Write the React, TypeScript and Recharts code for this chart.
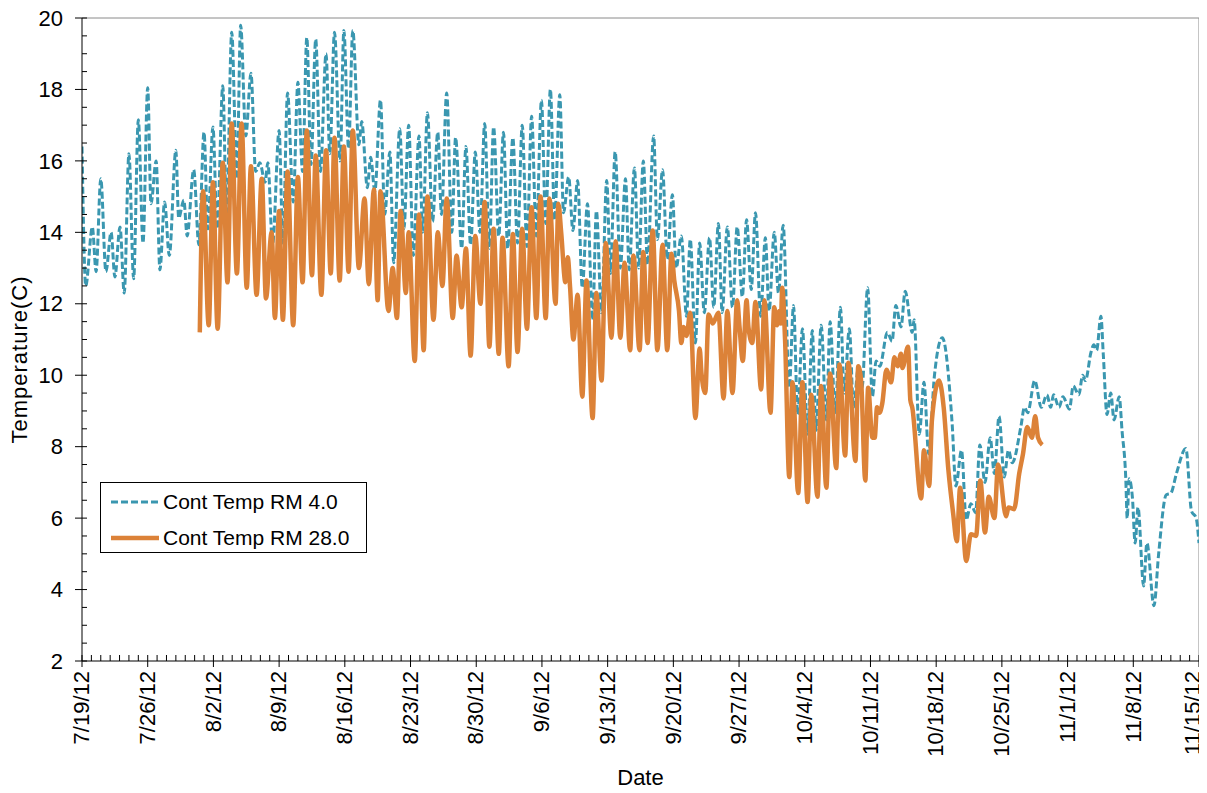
import React from "react";
import { LineChart, Line, XAxis, YAxis, ReferenceLine, Legend } from "recharts";

// Continuous water temperature, two river-mile stations.
// Each reading: [days since 7/19/12, temperature in °C]
const rm4Readings: [number, number][] = [
  [0, 16.4], [0.4, 12.5], [1.1, 14.15], [1.5, 12.9], [2.0, 15.5], [2.55, 12.9],
  [3.1, 14.0], [3.5, 12.75], [4.05, 14.15], [4.5, 12.3], [5.0, 16.2], [5.5, 12.7],
  [6.0, 17.15], [6.5, 13.7], [7.0, 18.05], [7.35, 14.8], [7.9, 16.0], [8.3, 12.95],
  [8.8, 14.85], [9.3, 13.35], [10.0, 16.3], [10.3, 14.4], [10.85, 14.9], [11.2, 13.9],
  [11.9, 15.75], [12.45, 13.65], [13.0, 16.8], [13.4, 14.1], [13.95, 16.95], [14.4, 14.1],
  [15.0, 18.1], [15.4, 14.5], [15.95, 19.6], [16.5, 15.5], [16.9, 19.8], [17.45, 16.7],
  [18.0, 18.45], [18.5, 15.7], [18.95, 15.95], [19.5, 15.4], [19.8, 15.95], [20.3, 13.65],
  [21.0, 16.85], [21.4, 13.7], [21.9, 17.9], [22.5, 14.85], [23.0, 18.2], [23.5, 15.7],
  [23.95, 19.45], [24.4, 15.9], [24.9, 19.4], [25.4, 15.7], [26.0, 19.0], [26.4, 16.2],
  [26.9, 19.6], [27.5, 16.0], [27.9, 19.65], [28.4, 16.35], [28.85, 19.65], [29.5, 16.45],
  [29.8, 17.1], [30.4, 15.25], [30.75, 16.1], [31.2, 15.15], [31.8, 17.7], [32.25, 14.5],
  [32.8, 16.25], [33.2, 13.15], [33.85, 16.9], [34.3, 14.1], [34.8, 17.0], [35.3, 13.35],
  [35.9, 16.7], [36.3, 14.0], [36.8, 17.35], [37.35, 14.3], [37.9, 16.8], [38.3, 14.5],
  [38.85, 17.9], [39.4, 14.0], [39.8, 16.65], [40.45, 13.55], [40.9, 16.4], [41.4, 13.65],
  [41.9, 16.25], [42.4, 14.0], [42.9, 17.05], [43.4, 13.55], [43.85, 16.95], [44.4, 13.9],
  [44.9, 16.8], [45.35, 13.55], [45.9, 16.65], [46.4, 13.7], [46.9, 17.0], [47.4, 13.6],
  [47.9, 17.25], [48.4, 13.9], [48.95, 17.7], [49.4, 14.25], [49.9, 18.0], [50.35, 14.35],
  [50.9, 17.85], [51.3, 14.55], [51.85, 15.55], [52.3, 14.05], [52.8, 15.45], [53.3, 12.45],
  [53.85, 14.8], [54.4, 11.55], [54.8, 14.6], [55.35, 11.75], [55.9, 15.45], [56.3, 12.85],
  [56.8, 16.25], [57.35, 13.0], [57.9, 15.5], [58.3, 12.95], [58.85, 15.8], [59.3, 13.0],
  [59.8, 16.0], [60.25, 13.1], [60.9, 16.7], [61.3, 13.8], [61.85, 15.75], [62.35, 13.25],
  [62.9, 15.05], [63.3, 13.0], [63.85, 13.9], [64.4, 11.65], [64.8, 13.8], [65.35, 10.9],
  [65.8, 13.7], [66.3, 11.75], [66.85, 13.85], [67.3, 11.9], [67.8, 14.25], [68.2, 11.75],
  [68.75, 14.15], [69.3, 11.9], [69.8, 14.15], [70.35, 12.2], [70.8, 14.35], [71.3, 12.4],
  [71.75, 14.55], [72.3, 11.65], [72.8, 13.85], [73.2, 11.8], [73.75, 14.0], [74.2, 12.3],
  [74.7, 14.2], [75.35, 9.65], [75.8, 11.95], [76.25, 8.9], [76.75, 11.3], [77.3, 8.35],
  [77.8, 11.25], [78.2, 8.45], [78.75, 11.4], [79.3, 8.75], [79.7, 11.5], [80.25, 8.95],
  [80.8, 11.9], [81.2, 9.5], [81.75, 11.3], [82.2, 9.1], [82.7, 10.2], [83.1, 9.65],
  [83.7, 12.45], [84.2, 9.4], [84.6, 10.4], [85.0, 10.25], [85.8, 11.2], [86.3, 10.95],
  [86.7, 11.95], [87.25, 11.35], [87.7, 12.35], [88.45, 11.2], [88.65, 11.55], [89.2, 8.35],
  [89.7, 9.8], [90.2, 7.8], [90.8, 9.95], [91.65, 11.05], [92.7, 8.65], [93.1, 6.9],
  [93.7, 7.9], [94.2, 5.95], [94.7, 6.4], [95.2, 6.15], [95.65, 8.05], [96.2, 7.0],
  [96.75, 8.25], [97.2, 7.25], [97.7, 8.85], [98.25, 7.15], [98.7, 7.9], [99.1, 7.55],
  [100.05, 8.6], [100.4, 9.1], [100.75, 8.95], [101.5, 9.85], [102.2, 9.1], [102.8, 9.45],
  [103.2, 9.1], [103.5, 9.45], [104.1, 9.1], [104.5, 9.4], [105.2, 9.05], [105.6, 9.7],
  [106.2, 9.45], [106.6, 10.0], [106.9, 9.85], [107.5, 10.65], [107.8, 10.85], [108.1, 10.7],
  [108.55, 11.65], [108.8, 10.6], [109.2, 8.9], [109.6, 9.5], [109.95, 8.75], [110.5, 9.4],
  [110.8, 8.45], [111.2, 7.1], [111.35, 6.0], [111.55, 7.1], [111.9, 6.6], [112.2, 5.3],
  [112.5, 6.3], [113.1, 4.1], [113.45, 5.3], [114.2, 3.55], [114.7, 5.0], [115.5, 6.65],
  [116.0, 6.7], [116.6, 7.25], [117.6, 7.95], [118.2, 6.2], [118.7, 6.0], [119.0, 5.3],
];

const rm28Readings: [number, number][] = [
  [12.55, 11.2], [12.9, 15.15], [13.5, 11.4], [13.95, 15.4], [14.45, 11.3], [15.0, 15.95],
  [15.5, 12.6], [15.95, 17.05], [16.5, 12.85], [17.0, 17.05], [17.55, 12.45], [18.0, 15.85],
  [18.6, 12.25], [19.15, 15.5], [19.6, 12.15], [20.2, 14.0], [20.55, 11.6], [21.0, 14.6],
  [21.4, 11.55], [21.9, 15.7], [22.5, 11.4], [23.0, 15.55], [23.5, 12.6], [23.95, 16.85],
  [24.5, 12.8], [24.9, 16.15], [25.5, 12.25], [26.0, 16.3], [26.5, 12.85], [26.9, 16.65],
  [27.45, 12.65], [27.9, 16.4], [28.4, 12.9], [28.85, 16.85], [29.5, 13.0], [30.1, 14.95],
  [30.55, 12.55], [31.1, 15.2], [31.5, 12.1], [31.8, 15.15], [32.65, 11.8], [33.1, 13.0],
  [33.55, 11.6], [33.95, 14.6], [34.5, 12.3], [34.8, 14.0], [35.45, 10.4], [35.9, 14.5],
  [36.4, 10.7], [36.8, 15.0], [37.45, 11.55], [37.9, 14.0], [38.4, 12.5], [38.85, 14.95],
  [39.5, 11.6], [39.9, 13.35], [40.45, 11.9], [40.9, 13.55], [41.4, 10.55], [41.9, 13.9],
  [42.45, 12.0], [42.9, 14.85], [43.4, 10.8], [43.85, 14.1], [44.4, 10.6], [44.8, 13.85],
  [45.45, 10.25], [45.9, 13.95], [46.4, 10.65], [46.9, 14.1], [47.4, 11.3], [47.9, 14.7],
  [48.4, 11.6], [48.85, 15.0], [49.4, 11.6], [49.8, 14.95], [50.45, 12.0], [50.75, 14.8],
  [51.05, 14.0], [51.5, 12.6], [51.75, 13.3], [52.0, 12.45], [52.35, 11.0], [52.8, 12.25],
  [53.3, 9.4], [53.75, 12.65], [54.4, 8.8], [54.8, 12.3], [55.35, 9.85], [55.8, 13.7],
  [56.4, 11.05], [56.85, 13.75], [57.35, 11.05], [57.8, 13.15], [58.4, 10.7], [58.75, 13.35],
  [59.4, 10.7], [59.8, 13.45], [60.25, 10.9], [60.8, 14.05], [61.3, 10.7], [61.85, 13.65],
  [62.35, 10.7], [62.8, 13.4], [63.1, 12.65], [63.6, 11.8], [63.85, 10.9], [64.1, 11.35],
  [64.4, 11.1], [64.8, 11.75], [65.35, 8.8], [65.8, 10.75], [66.0, 10.05], [66.4, 9.5],
  [66.75, 11.7], [67.2, 11.45], [67.8, 11.75], [68.35, 9.35], [68.75, 11.8], [69.3, 9.5],
  [69.8, 12.1], [70.05, 11.35], [70.4, 10.4], [70.8, 12.1], [71.0, 11.35], [71.4, 10.9],
  [71.75, 12.05], [72.35, 9.6], [72.7, 12.1], [73.35, 8.95], [73.75, 11.9], [74.05, 11.4],
  [74.3, 11.8], [74.45, 11.45], [74.6, 12.45], [74.9, 11.0], [75.35, 7.15], [75.7, 9.8],
  [76.3, 6.7], [76.75, 9.8], [77.3, 6.45], [77.7, 9.45], [78.35, 6.6], [78.75, 9.7],
  [79.3, 6.85], [79.7, 10.05], [80.35, 7.4], [80.7, 10.3], [81.3, 7.75], [81.65, 10.35],
  [82.4, 7.6], [82.7, 10.25], [83.0, 9.85], [83.45, 7.05], [83.75, 9.65], [84.2, 8.25],
  [84.45, 8.25], [84.7, 9.1], [84.95, 8.95], [85.25, 9.2], [85.7, 10.15], [86.2, 9.8],
  [86.55, 10.5], [86.9, 10.25], [87.25, 10.6], [87.4, 10.2], [88.0, 10.8], [88.25, 9.3],
  [88.45, 9.1], [89.4, 6.55], [89.7, 7.9], [90.25, 6.9], [90.55, 8.75], [91.3, 9.85],
  [91.8, 9.1], [92.3, 7.35], [92.8, 6.15], [93.2, 5.35], [93.55, 6.85], [94.2, 4.8],
  [94.7, 5.55], [95.25, 5.5], [95.7, 7.05], [96.2, 5.6], [96.6, 6.6], [97.2, 6.0],
  [97.6, 7.5], [98.45, 6.05], [98.7, 6.3], [99.3, 6.25], [99.85, 7.25], [100.25, 7.8],
  [100.7, 8.55], [101.2, 8.25], [101.55, 8.85], [101.85, 8.25], [102.3, 8.05],
];

// Weekly date labels, one every 7 days starting 7/19/12
const weekLabels = [
  "7/19/12", "7/26/12", "8/2/12", "8/9/12", "8/16/12", "8/23/12", "8/30/12", "9/6/12",
  "9/13/12", "9/20/12", "9/27/12", "10/4/12", "10/11/12", "10/18/12", "10/25/12",
  "11/1/12", "11/8/12", "11/15/12",
];

const seriesNames = ["Cont Temp RM 4.0", "Cont Temp RM 28.0"];
const BLUE = "#3a97b0";
const ORANGE = "#dc8238";
const FONT = "'Liberation Sans', Arial, sans-serif";
const FS = 22;
const CHART_W = 1199;
const CHART_H = 785;

const LAST_DAY = (weekLabels.length - 1) * 7;
const dayTicks = Array.from({ length: LAST_DAY + 1 }, (_, i) => i);
const tempTicks = Array.from({ length: 37 }, (_, i) => 2 + i * 0.5);

const rm4Data = rm4Readings.map(([day, t]) => ({ day, t }));
const rm28Data = rm28Readings.map(([day, t]) => ({ day, t }));

const XTick = (props: any) => {
  const { x, y, payload } = props;
  const day = payload.value as number;
  const major = day % 7 === 0;
  const ly = y + 10;
  // keep the rotated label inside the drawing surface at the right edge
  const lx = Math.min(x, CHART_W - 14);
  return (
    <g>
      <line x1={x} x2={x} y1={y - 6} y2={major ? y + 6 : y} stroke="#000" strokeWidth={1} />
      {major && (
        <text
          x={lx}
          y={ly}
          transform={`rotate(-90, ${lx}, ${ly})`}
          textAnchor="end"
          dy="0.33em"
          fontSize={FS}
          fontFamily={FONT}
          fill="#000"
        >
          {weekLabels[day / 7]}
        </text>
      )}
    </g>
  );
};

const YTick = (props: any) => {
  const { x, y, payload } = props;
  const v = payload.value as number;
  const major = v % 2 === 0;
  return (
    <g>
      <line x1={major ? x - 7 : x} x2={x + 5} y1={y} y2={y} stroke="#000" strokeWidth={1} />
      {major && (
        <text x={x - 19} y={y} textAnchor="end" dy="0.35em" fontSize={FS} fontFamily={FONT} fill="#000">
          {v}
        </text>
      )}
    </g>
  );
};

const YTitle = (props: any) => {
  const vb = props.viewBox || {};
  const cx = 11;
  const cy = (vb.y ?? 10) + (vb.height ?? 643) / 2 + 20;
  return (
    <text
      x={cx}
      y={cy}
      transform={`rotate(-90, ${cx}, ${cy})`}
      textAnchor="middle"
      dy="0.35em"
      fontSize={FS}
      letterSpacing={1}
      fontFamily={FONT}
      fill="#000"
    >
      Temperature(C)
    </text>
  );
};

const XTitle = (props: any) => {
  const vb = props.viewBox || {};
  const cx = (vb.x ?? 74) + (vb.width ?? 1120) / 2;
  return (
    <text x={cx} y={769} textAnchor="middle" dy="0.35em" fontSize={FS} fontFamily={FONT} fill="#000">
      Date
    </text>
  );
};

const LegendBox = () => (
  <div
    style={{
      width: 267,
      height: 71,
      boxSizing: "border-box",
      border: "1px solid #000",
      background: "#fff",
      fontFamily: FONT,
      fontSize: 21,
      color: "#000",
      paddingLeft: 9,
      paddingTop: 4,
    }}
  >
    {seriesNames.map((name, i) => (
      <div key={name} style={{ display: "flex", alignItems: "center", height: 30, marginBottom: i === 0 ? 6 : 0 }}>
        <svg width={53} height={10} style={{ flex: "none" }}>
          {i === 0 ? (
            <line x1={1} x2={49} y1={5} y2={5} stroke={BLUE} strokeWidth={3} strokeDasharray="7 3" />
          ) : (
            <line x1={1} x2={49} y1={5} y2={5} stroke={ORANGE} strokeWidth={4.5} />
          )}
        </svg>
        <span style={{ whiteSpace: "nowrap" }}>{name}</span>
      </div>
    ))}
  </div>
);

export default function App() {
  return (
    <>
      <style>{`.recharts-surface { overflow: visible; }`}</style>
      <LineChart
        width={CHART_W}
        height={CHART_H}
        margin={{ top: 10, right: 8, left: 0, bottom: 0 }}
        style={{ fontFamily: FONT, background: "#fff" }}
      >
        <XAxis
          dataKey="day"
          type="number"
          domain={[0, LAST_DAY]}
          ticks={dayTicks}
          interval={0}
          allowDataOverflow
          height={132}
          tickSize={0}
          tickMargin={0}
          tickLine={false}
          tick={<XTick />}
          axisLine={{ stroke: "#000", strokeWidth: 1 }}
          label={{ content: <XTitle /> }}
        />
        <YAxis
          type="number"
          domain={[2, 20]}
          ticks={tempTicks}
          interval={0}
          allowDataOverflow
          width={74}
          tickSize={0}
          tickMargin={0}
          tickLine={false}
          tick={<YTick />}
          axisLine={{ stroke: "#000", strokeWidth: 1 }}
          label={{ content: <YTitle /> }}
        />
        <ReferenceLine y={20} stroke="#8a8a8a" strokeWidth={1} />
        <ReferenceLine x={LAST_DAY} stroke="#8a8a8a" strokeWidth={1} />
        <Line
          data={rm4Data}
          dataKey="t"
          name={seriesNames[0]}
          type="monotone"
          stroke={BLUE}
          strokeWidth={3}
          strokeDasharray="7 3"
          dot={false}
          activeDot={false}
          isAnimationActive={false}
        />
        <Line
          data={rm28Data}
          dataKey="t"
          name={seriesNames[1]}
          type="monotone"
          stroke={ORANGE}
          strokeWidth={4.5}
          dot={false}
          activeDot={false}
          isAnimationActive={false}
        />
        <Legend
          layout="vertical"
          align="center"
          verticalAlign="middle"
          wrapperStyle={{ left: 92, top: 474, width: 267, height: 71 }}
          content={<LegendBox />}
        />
      </LineChart>
    </>
  );
}
